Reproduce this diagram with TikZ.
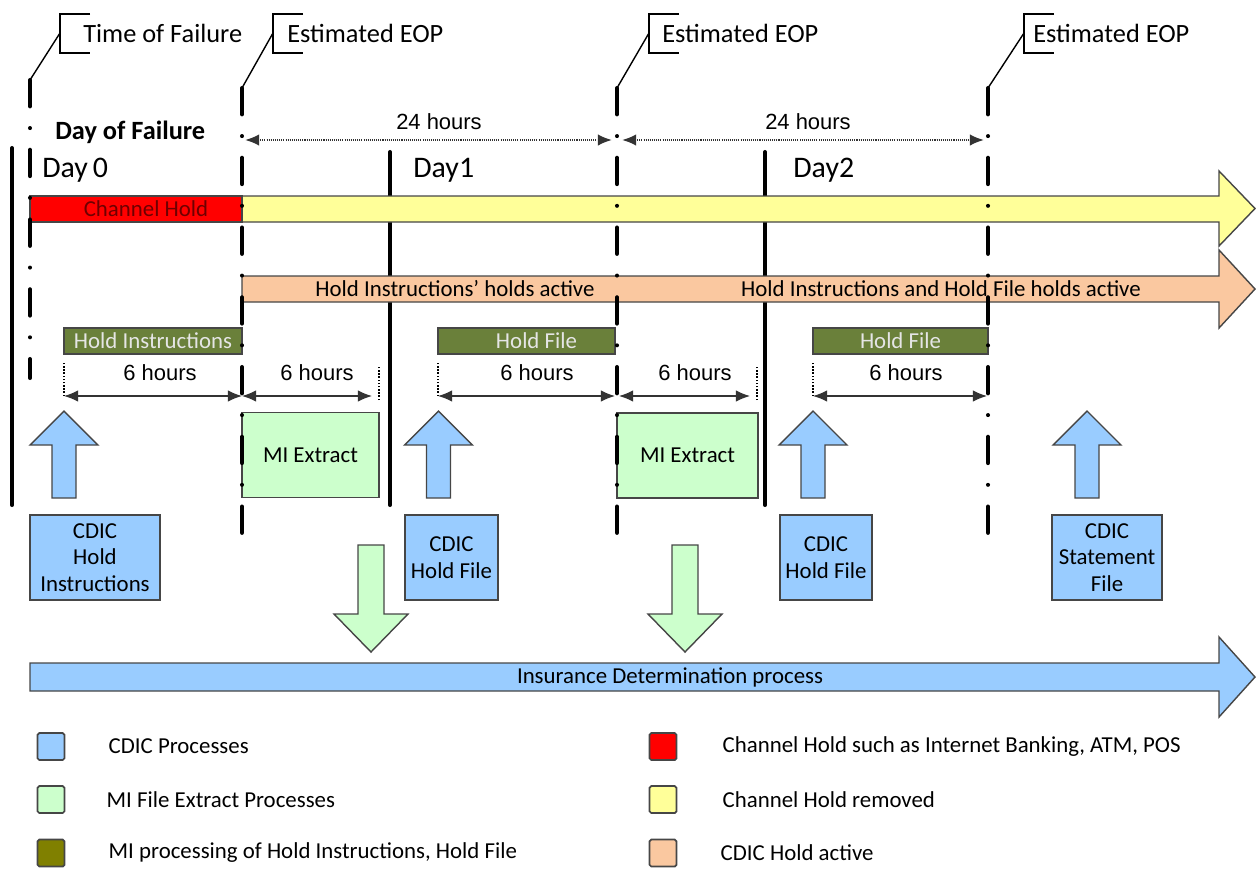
\documentclass[tikz,border=0pt]{standalone}
\usepackage{fontspec}
\setmainfont{Carlito}
\newfontfamily\arialfont{Liberation Sans}
\usepackage{tikz}
\usetikzlibrary{arrows.meta}
\usetikzlibrary{positioning}

\definecolor{cdicblue}{RGB}{153,204,255}
\definecolor{migreen}{RGB}{204,255,204}
\definecolor{holdolive}{RGB}{106,128,58}
\definecolor{legolive}{RGB}{128,128,0}
\definecolor{chanred}{RGB}{255,0,0}
\definecolor{chantext}{RGB}{110,0,0}
\definecolor{chanyellow}{RGB}{255,255,153}
\definecolor{holdpeach}{RGB}{250,200,160}
\definecolor{boxedge}{RGB}{70,70,70}

\newcommand{\boxfont}{\fontsize{13}{15}\selectfont}
\newcommand{\bigfont}{\fontsize{15}{18}\selectfont}
\newcommand{\dayfont}{\fontsize{17}{20}\selectfont}
\newcommand{\hourfont}{\arialfont\fontsize{12.5}{14}\selectfont}

\begin{document}
\begin{tikzpicture}[x=0.02cm,y=-0.02cm,
		cdic box/.style={draw=boxedge,fill=cdicblue,line width=0.8pt,
			align=center,font=\boxfont,minimum height=1.7cm,inner sep=1pt},
		mi box/.style={draw=boxedge,fill=migreen,line width=0.8pt,
			font=\boxfont,minimum height=1.7cm},
		hold box/.style={draw=boxedge,fill=holdolive,line width=0.8pt,
			text=white!90!black,font=\boxfont,minimum height=0.52cm,inner sep=0pt},
		block/.style={draw=boxedge,line width=0.8pt},
		eop line/.style={line width=2.3pt,line cap=round,
			dash pattern=on 15pt off 12.35pt on 0pt off 12.35pt},
		day line/.style={line width=2.3pt,line cap=round},
		span/.style={{Latex[length=8pt,width=6.5pt]}-{Latex[length=8pt,width=6.5pt]},
			line width=0.7pt,draw=black!80},
		day span/.style={span,line width=1.1pt,dash pattern=on 0.6pt off 0.6pt},
		ext line/.style={densely dotted,line width=0.8pt},
		legend box/.style={draw=boxedge,line width=1pt,minimum size=0.54cm,
			inner sep=0pt,rounded corners=1pt},
		legend text/.style={font=\boxfont,anchor=west,inner sep=0pt},
		plain text/.style={inner sep=0pt}]
	
	\useasboundingbox (0,0) rectangle (1257,870);
	
	% day boundaries
	\coordinate (d0 top) at (12,148);   \coordinate (d0 bot) at (12,505);
	\coordinate (d1 top) at (390,152);  \coordinate (d1 bot) at (390,505);
	\coordinate (d2 top) at (765,152);  \coordinate (d2 bot) at (765,505);
	\draw[day line] (d0 top) -- (d0 bot);
	\draw[day line] (d1 top) -- (d1 bot);
	\draw[day line] (d2 top) -- (d2 bot);
	
	% channel hold / hold active arrows
	\draw[block,fill=chanyellow] (30,196) -- (1219,196) -- (1219,171) -- (1255,208.5)
		-- (1219,246) -- (1219,222) -- (30,222) -- cycle;
	\node[draw=boxedge,fill=chanred,line width=0.8pt,minimum width=4.24cm,
		minimum height=0.52cm,inner sep=0pt,text=chantext,font=\boxfont] (chan) at (136,209) {\hspace{0.4cm}Channel Hold};
	
	\draw[block,fill=holdpeach] (242,276) -- (1219,276) -- (1219,250) -- (1255,289)
		-- (1219,328) -- (1219,302) -- (242,302) -- cycle;
	\node[plain text,font=\boxfont] (hi active) at (455,289) {Hold Instructions’ holds active};
	\node[plain text,font=\boxfont] (hf active) at (941,289) {Hold Instructions and Hold File holds active};
	
	% MI processing
	\node[hold box,minimum width=3.56cm] (hi) at (153,341) {Hold Instructions};
	\node[hold box,minimum width=3.54cm] (hf1) at (526.5,341) {\hspace{0.4cm}Hold File};
	\node[hold box,minimum width=3.5cm] (hf2) at (900.5,341) {Hold File};
	
	\node[mi box,minimum width=2.74cm] (mi1) at (310.5,455) {MI Extract};
	\node[mi box,minimum width=2.82cm] (mi2) at (687.5,455.5) {MI Extract};
	
	% CDIC processes
	\node[cdic box,minimum width=2.6cm] (cdic hi) at (95,557.5) {CDIC\\Hold\\Instructions};
	\node[cdic box,minimum width=1.86cm] (cdic hf1) at (451.5,557.5) {CDIC\\Hold File};
	\node[cdic box,minimum width=1.84cm] (cdic hf2) at (826,557.5) {CDIC\\Hold File};
	\node[cdic box,minimum width=2.2cm] (cdic sf) at (1107,557.5) {CDIC\\Statement\\File};
	
	\foreach \c in {64,438.5,813,1087}
		\draw[block,fill=cdicblue] (\c-12,498) -- (\c-12,445) -- (\c-34,445) -- (\c,411)
			-- (\c+34,445) -- (\c+12,445) -- (\c+12,498) -- cycle;
	\foreach \c in {371,685}
		\draw[block,fill=migreen] (\c-13,545) -- (\c+13,545) -- (\c+13,614) -- (\c+37,614)
			-- (\c,652) -- (\c-37,614) -- (\c-13,614) -- cycle;
	
	\draw[block,fill=cdicblue] (30,663) -- (1219,663) -- (1219,637) -- (1255,677)
		-- (1219,717) -- (1219,691) -- (30,691) -- cycle;
	\node[plain text,font=\boxfont] (idp) at (670,677) {Insurance Determination process};
	
	% 6 hours spans
	\coordinate (s1a) at (64,396);  \coordinate (s1b) at (242,396);
	\coordinate (s2a) at (242,396); \coordinate (s2b) at (372,396);
	\coordinate (s3a) at (438,396); \coordinate (s3b) at (615,396);
	\coordinate (s4a) at (619,396); \coordinate (s4b) at (750,396);
	\coordinate (s5a) at (813,396); \coordinate (s5b) at (987,396);
	\draw[span] (s1a) -- (s1b);
	\draw[span] (s2a) -- (s2b);
	\draw[span] (s3a) -- (s3b);
	\draw[span] (s4a) -- (s4b);
	\draw[span] (s5a) -- (s5b);
	\draw[ext line] (s1a) -- ++(0,-34);
	\draw[ext line] (379,400) -- (379,366);
	\draw[ext line] (s3a) -- ++(0,-34);
	\draw[ext line] (757,400) -- (757,366);
	\draw[ext line] (s5a) -- ++(0,-34);
	\node[plain text,font=\hourfont] at (160,373) {6 hours};
	\node[plain text,font=\hourfont] at (317,373) {6 hours};
	\node[plain text,font=\hourfont] at (537,373) {6 hours};
	\node[plain text,font=\hourfont] at (695,373) {6 hours};
	\node[plain text,font=\hourfont] at (906,373) {6 hours};
	
	% 24 hours spans
	\coordinate (w1a) at (245,140); \coordinate (w1b) at (612,140);
	\coordinate (w2a) at (622,140); \coordinate (w2b) at (984,140);
	\draw[day span] (w1a) -- (w1b);
	\draw[day span] (w2a) -- (w2b);
	\node[plain text,font=\hourfont] at (439,122) {24 hours};
	\node[plain text,font=\hourfont] at (808,122) {24 hours};
	
	% failure and EOP markers
	\coordinate (tf top) at (30,80);   \coordinate (tf bot) at (30,378);
	\coordinate (e1 top) at (242,88);  \coordinate (e1 bot) at (242,535);
	\coordinate (e2 top) at (617,88);  \coordinate (e2 bot) at (617,535);
	\coordinate (e3 top) at (988,88);  \coordinate (e3 bot) at (988,535);
	\draw[eop line] (tf top) -- (tf bot);
	\draw[eop line] (e1 top) -- (e1 bot);
	\draw[eop line] (e2 top) -- (e2 bot);
	\draw[eop line] (e3 top) -- (e3 bot);
	
	\coordinate (b0) at (60,33);
	\coordinate (b1) at (273,33);
	\coordinate (b2) at (649,33);
	\coordinate (b3) at (1024,33);
	\node[plain text,font=\bigfont,right=0.46cm of b0] (tof) {Time of Failure};
	\node[plain text,font=\bigfont,right=0.28cm of b1] (eop1) {Estimated EOP};
	\node[plain text,font=\bigfont,right=0.26cm of b2] (eop2) {Estimated EOP};
	\node[plain text,font=\bigfont,right=0.18cm of b3] (eop3) {Estimated EOP};
	\foreach \b/\t in {b0/tf top,b1/e1 top,b2/e2 top,b3/e3 top}{
		\draw[line width=0.8pt] ([shift={(30,-19)}]\b) -| ([shift={(0,20)}]\b) -- ++(30,0);
		\draw[line width=0.8pt] (\t) -- (\b);
	}
	
	% day labels
	\node[plain text,font=\bigfont\bfseries,anchor=west] (dof) at (55,132) {Day of Failure};
	\node[plain text,font=\dayfont,anchor=west] (day0) at (42,170) {Day\,0};
	\node[plain text,font=\dayfont,anchor=west] (day1) at (413,170) {Day1};
	\node[plain text,font=\dayfont,anchor=west] (day2) at (793,170) {Day2};
	
	% legend
	\node[legend box,fill=cdicblue] (lg1) at (51,746.5) {};
	\node[legend box,fill=migreen] (lg2) at (51,799.5) {};
	\node[legend box,fill=legolive] (lg3) at (51,853) {};
	\node[legend text,right=0.86cm of lg1] {CDIC Processes};
	\node[legend text,right=0.82cm of lg2] {MI File Extract Processes};
	\node[legend text,right=0.86cm of lg3] {MI processing of Hold Instructions, Hold File};
	\node[legend box,fill=chanred] (lg4) at (663,746.5) {};
	\node[legend box,fill=chanyellow] (lg5) at (663,799.5) {};
	\node[legend box,fill=holdpeach] (lg6) at (663,853) {};
	\node[legend text,right=0.9cm of lg4] {Channel Hold such as Internet Banking, ATM, POS};
	\node[legend text,right=0.9cm of lg5] {Channel Hold removed};
	\node[legend text,right=0.86cm of lg6] {CDIC Hold active};
\end{tikzpicture}
\end{document}
